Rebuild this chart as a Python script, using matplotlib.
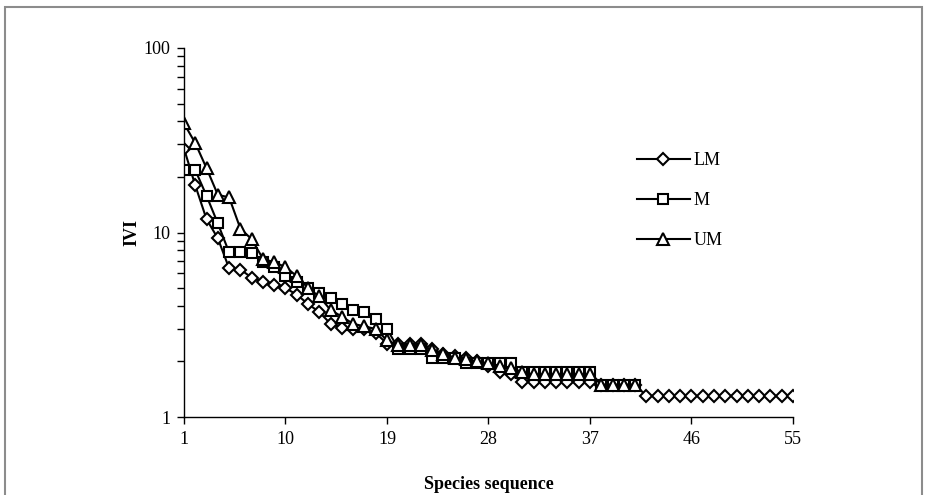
import numpy as np
import matplotlib
matplotlib.use('Agg')
import matplotlib.pyplot as plt
from matplotlib.patches import Rectangle

plt.rcParams['font.family'] = ['Liberation Serif', 'DejaVu Serif']

# IVI values, species in rank order
lm_ivi = [28.5, 18.0, 11.8, 9.3, 6.4, 6.3, 5.7, 5.4, 5.2, 5.0,
          4.6, 4.1, 3.7, 3.2, 3.05, 3.0, 3.0, 2.85, 2.5, 2.5,
          2.5, 2.5, 2.35, 2.2, 2.15, 2.1, 2.0, 1.9, 1.75, 1.7,
          1.55, 1.55, 1.55, 1.55, 1.55, 1.55, 1.55, 1.5, 1.5, 1.5,
          1.5, 1.3, 1.3, 1.3, 1.3, 1.3, 1.3, 1.3, 1.3, 1.3,
          1.3, 1.3, 1.3, 1.3, 1.3]
m_ivi = [21.8, 21.8, 15.8, 11.2, 7.8, 7.8, 7.7, 6.9, 6.5, 5.8,
         5.4, 5.0, 4.7, 4.4, 4.1, 3.8, 3.7, 3.4, 3.0, 2.35,
         2.35, 2.35, 2.1, 2.1, 2.1, 1.95, 1.95, 1.95, 1.95, 1.95,
         1.75, 1.75, 1.75, 1.75, 1.75, 1.75, 1.75, 1.5, 1.5, 1.5,
         1.5]
um_ivi = [39.0, 30.5, 22.3, 16.0, 15.5, 10.5, 9.2, 7.2, 6.9, 6.5,
          5.8, 5.0, 4.5, 3.8, 3.5, 3.2, 3.1, 3.0, 2.6, 2.45,
          2.45, 2.45, 2.3, 2.2, 2.1, 2.05, 2.0, 1.95, 1.9, 1.85,
          1.75, 1.7, 1.7, 1.7, 1.7, 1.7, 1.7, 1.5, 1.5, 1.5,
          1.5]

x_ticks = [1, 10, 19, 28, 37, 46, 55]
y_ticks = [1, 10, 100]

fig = plt.figure(figsize=(9.28, 4.95), dpi=100)
# grey chart border
fig.patches.append(Rectangle((5 / 928, -0.01), 917 / 928, 1 - 7 / 495 + 0.01,
                             transform=fig.transFigure, fill=False,
                             edgecolor='#8c8c8c', linewidth=1.5))

ax = fig.add_axes([184 / 928, 1 - 417 / 495, (793 - 184) / 928, (417 - 48) / 495])

style = dict(color='black', linewidth=1.5, markerfacecolor='white',
             markeredgecolor='black', markeredgewidth=1.5)
ax.plot(np.arange(1, len(lm_ivi) + 1), lm_ivi, marker='D', markersize=6.5, label='LM', **style)
ax.plot(np.arange(1, len(m_ivi) + 1), m_ivi, marker='s', markersize=7.5, label='M', **style)
ax.plot(np.arange(1, len(um_ivi) + 1), um_ivi, marker='^', markersize=8.5, label='UM', **style)

ax.set_yscale('log')
ax.set_ylim(1, 100)
ax.set_xlim(1, 55)
ax.set_xticks(x_ticks)
ax.set_xticklabels([str(t) for t in x_ticks])
ax.set_yticks(y_ticks)
ax.set_yticklabels([str(t) for t in y_ticks])
ax.tick_params(axis='both', which='major', direction='out', length=5, width=1,
               labelsize=13, pad=5)
ax.tick_params(axis='y', which='minor', direction='out', length=5, width=1)
ax.spines['top'].set_visible(False)
ax.spines['right'].set_visible(False)
ax.spines['left'].set_linewidth(1)
ax.spines['bottom'].set_linewidth(1)

ax.set_xlabel('Species sequence', fontsize=13, fontweight='bold', labelpad=20)
ax.set_ylabel('IVI', fontsize=13, fontweight='bold', labelpad=2)

fig.legend(loc='upper left', bbox_to_anchor=(621 / 928, 1 - 136 / 495),
           frameon=False, fontsize=13, handlelength=2.9, handletextpad=0.2,
           labelspacing=1.28)

fig.savefig('out.png', dpi=100)
